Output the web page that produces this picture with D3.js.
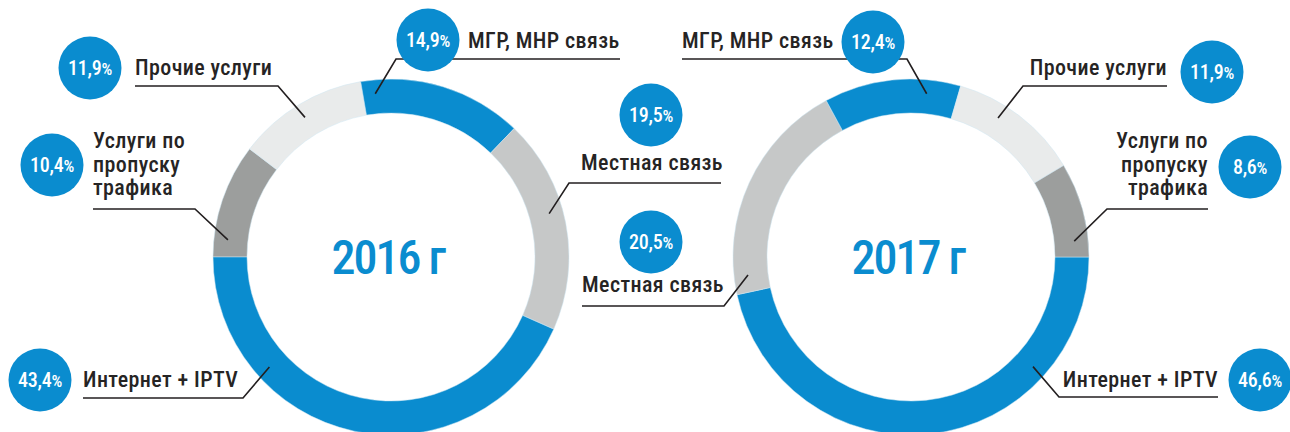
<!DOCTYPE html>
<html>
<head>
<meta charset="utf-8">
<script src="https://cdn.jsdelivr.net/npm/d3@7"></script>
<style>
	body{margin:0;background:#fff}
	text{font-family:Roboto,'Roboto Condensed',sans-serif;font-stretch:condensed}
	.lbl{font-size:22px;font-weight:500;fill:#262424;letter-spacing:0.4px}
	.pct{font-size:20px;font-weight:500;fill:#fff;letter-spacing:-0.3px}
	.year{font-size:48px;font-weight:500;fill:#0a8ccf;letter-spacing:-2px}
	.leader{fill:none;stroke:#231f20;stroke-width:1.6}
</style>
</head>
<body>
<div id="chart"></div>
<script>
/* structure of revenue by services, 2016 vs 2017 */

const years = ['2016 г','2017 г']
const services = ['Интернет + IPTV','Местная связь','МГР, МНР связь','Прочие услуги','Услуги по пропуску трафика']
const share2016 = [43.4,19.5,14.9,11.9,10.4]
const share2017 = [46.6,20.5,12.4,11.9,8.6]
const colors = ['#0a8ccf','#c6c8c8','#0a8ccf','#e9ebeb','#9c9e9d']

const width = 1290
const height = 432
const outerR = 178
const innerR = 144

//the label layout for every slice: where the leader touches the ring (share of the slice),
//the elbow of the leader, the end of the underline, the text and the bubble
const layout2016 = [
	{frac:0.73,elbow:[243,398],end:83,text:[83,387],anchor:'start',bubble:[40,380]},
	{frac:0.44,elbow:[569,183],end:721,text:[581,170],anchor:'start',bubble:[651,115]},
	{frac:0.08,elbow:[396,59],end:620,text:[468,48],anchor:'start',bubble:[428,40]},
	{frac:0.49,elbow:[278,86],end:135,text:[135,75],anchor:'start',bubble:[90,68]},
	{frac:0.16,elbow:[195,209],end:93,text:[93,148],anchor:'start',bubble:[52,165]},
]
const layout2017 = [
	{frac:0.25,elbow:[1059,397],end:1218,text:[1218,387],anchor:'end',bubble:[1260,380]},
	{frac:0.08,elbow:[724,306],end:582,text:[582,292],anchor:'start',bubble:[651,242]},
	{frac:0.76,elbow:[907,59],end:682,text:[682,48],anchor:'start',bubble:[873,42]},
	{frac:0.37,elbow:[1023,86],end:1167,text:[1167,75],anchor:'end',bubble:[1212,72]},
	{frac:0.82,elbow:[1107,209],end:1208,text:[1208,148],anchor:'end',bubble:[1250,167]},
]

const svg = d3.select('#chart').append('svg')
	.attr('width',width)
	.attr('height',height)

const arc = d3.arc()
	.innerRadius(innerR)
	.outerRadius(outerR)

/* draw one donut
 * values : shares in the order of services
 * order : the slice order going clockwise
 * start : the start angle of the first slice
 * */
function donut(cx,cy,year,values,order,start,layout){
	const pie = d3.pie()
		.sort(null)
		.value(function(i){ return values[i] })
		.startAngle(start)
		.endAngle(start + 2*Math.PI)
	const slices = pie(order)

	const g = svg.append('g')
		.attr('transform','translate(' + cx + ',' + cy + ')')

	g.selectAll('path.slice')
		.data(slices)
		.enter().append('path')
		.attr('class','slice')
		.attr('d',arc)
		.attr('fill',function(d){ return colors[d.data] })
		.attr('stroke','#cfe6f3')
		.attr('stroke-width',0.5)

	g.append('text')
		.attr('class','year')
		.attr('x',-3)
		.attr('y',17)
		.attr('text-anchor','middle')
		.text(year)

	slices.forEach(function(d){
		const i = d.data
		const l = layout[i]
		const a = d.startAngle + l.frac*(d.endAngle - d.startAngle)
		const r = (innerR + outerR)/2 + 3
		const p = [cx + r*Math.sin(a),cy - r*Math.cos(a)]

		svg.append('path')
			.attr('class','leader')
			.attr('d',d3.line()([p,l.elbow,[l.end,l.elbow[1]]]))

		//long names are broken into lines
		const lines = services[i].length > 20 ? ['Услуги по','пропуску','трафика'] : [services[i]]
		const t = svg.append('text')
			.attr('class','lbl')
			.attr('text-anchor',l.anchor)
		lines.forEach(function(s,k){
			t.append('tspan')
				.attr('x',l.text[0])
				.attr('y',l.text[1] + k*23.5)
				.text(s)
		})

		svg.append('circle')
			.attr('cx',l.bubble[0])
			.attr('cy',l.bubble[1])
			.attr('r',31.5)
			.attr('fill','#0a8ccf')
		const pt = svg.append('text')
			.attr('class','pct')
			.attr('x',l.bubble[0])
			.attr('y',l.bubble[1] + 7)
			.attr('text-anchor','middle')
		pt.append('tspan').text(d3.format('.1f')(values[i]).replace('.',','))
		pt.append('tspan').style('font-size','17px').text('%')
	})
}

donut(391,257,years[0],share2016,[4,3,2,1,0],-Math.PI/2,layout2016)
donut(911,257,years[1],share2017,[0,1,2,3,4],Math.PI/2,layout2017)
</script>
</body>
</html>
